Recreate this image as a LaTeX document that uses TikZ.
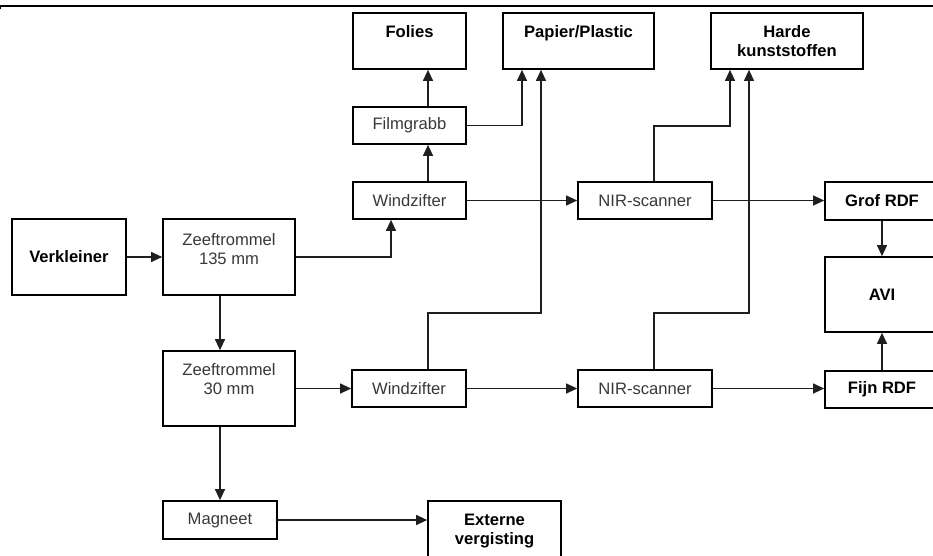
\documentclass[tikz,border=0pt]{standalone}
\usepackage{fontspec}
\setmainfont{Liberation Sans}
\usetikzlibrary{arrows.meta}
\newcommand{\dgfont}{\fontsize{16.6}{19}\selectfont}
\begin{document}
\begin{tikzpicture}[x=1pt,y=-1pt,
  box/.style={draw=black, line width=1.7pt, inner sep=0pt, font=\dgfont, text=black!78, align=center},
  bbox/.style={box, font=\dgfont\bfseries, text=black},
  txt/.style={inner sep=0pt, font=\dgfont, text=black!78, align=center, anchor=north},
  btxt/.style={txt, font=\dgfont\bfseries, text=black},
  conn/.style={line width=1.2pt, draw=black!88},
  arr/.style={conn, -{Triangle[length=11pt,width=10pt]}},
]
\useasboundingbox (0,0) rectangle (933,555);
\clip (0,0) rectangle (933,555);

% top rule
\draw[line width=1.3pt] (0.6,9) -- (0.6,6) -- (933,6);

% boxes
\node[bbox, minimum width=113pt, minimum height=56pt] (folies) at (409.5,41) {};
\node[btxt] (foliest) at (409.5,25) {Folies};
\node[bbox, minimum width=151pt, minimum height=56pt] (papier) at (578.5,41) {};
\node[btxt] (papiert) at (578.5,25) {Papier/Plastic};
\node[bbox, minimum width=152pt, minimum height=56pt] (harde) at (787,41) {Harde\\kunststoffen};
\node[box, minimum width=113pt, minimum height=37pt] (film) at (409.5,125.5) {Filmgrabb};
\node[box, minimum width=113pt, minimum height=37pt] (wind1) at (409.5,200.5) {Windzifter};
\node[box, minimum width=134pt, minimum height=37pt] (nir1) at (645,200.5) {NIR-scanner};
\node[bbox, minimum width=114pt, minimum height=38pt] (grof) at (882,201) {Grof RDF};
\node[bbox, minimum width=114pt, minimum height=76pt] (verk) at (69,257) {Verkleiner};
\node[box, minimum width=132pt, minimum height=76pt] (zeef1) at (229,257) {};
\node[txt] (zeef1t) at (229,233) {Zeeftrommel\\135 mm};
\node[bbox, minimum width=114pt, minimum height=75pt] (avi) at (882,294.5) {AVI};
\node[box, minimum width=132pt, minimum height=75pt] (zeef2) at (229,388.5) {};
\node[txt] (zeef2t) at (229,363) {Zeeftrommel\\30 mm};
\node[box, minimum width=114pt, minimum height=37pt] (wind2) at (409,388.5) {Windzifter};
\node[box, minimum width=134pt, minimum height=37pt] (nir2) at (645,388.5) {NIR-scanner};
\node[bbox, minimum width=114pt, minimum height=37pt] (fijn) at (882,389.5) {Fijn RDF};
\node[box, minimum width=114pt, minimum height=38pt] (mag) at (220,520) {Magneet};
\node[bbox, minimum width=133pt, minimum height=75pt] (ext) at (494.5,538.5) {};
\node[btxt] (extt) at (494.5,514) {Externe\\vergisting};

% bend points
\coordinate (b1) at (730,126);
\coordinate (b2) at (541,313);
\coordinate (b3) at (749,313);

% connectors
\draw[arr] (verk) -- (zeef1);
\draw[arr] (zeef1.east) -| ([xshift=-18.5pt]wind1.south);
\draw[arr] ([xshift=18.5pt]wind1.north) -- ([xshift=18.5pt]film.south);
\draw[arr] ([xshift=18.5pt]film.north) -- ([xshift=18.5pt]folies.south);
\draw[arr] (film.east) -| ([xshift=-56.5pt]papier.south);
\draw[arr] (wind1) -- (nir1);
\draw[arr] (nir1.east) -- (nir1.east -| grof.west);
\draw[arr] ([xshift=9pt]nir1.north) |- (b1) -- ([xshift=-57pt]harde.south);
\draw[arr] ([xshift=-9pt]zeef1.south) -- ([xshift=-9pt]zeef2.north);
\draw[arr] (zeef2) -- (wind2);
\draw[arr] (wind2) -- (nir2);
\draw[arr] (nir2.east) -- (nir2.east -| fijn.west);
\draw[arr] ([xshift=19pt]wind2.north) |- (b2) -- ([xshift=-37.5pt]papier.south);
\draw[arr] ([xshift=9pt]nir2.north) |- (b3) -- ([xshift=-38pt]harde.south);
\draw[arr] ([xshift=-9pt]zeef2.south) -- (mag.north);
\draw[arr] (mag.east) -- (mag.east -| ext.west);
\draw[arr] (grof) -- (avi);
\draw[arr] (fijn) -- (avi);
\end{tikzpicture}
\end{document}
